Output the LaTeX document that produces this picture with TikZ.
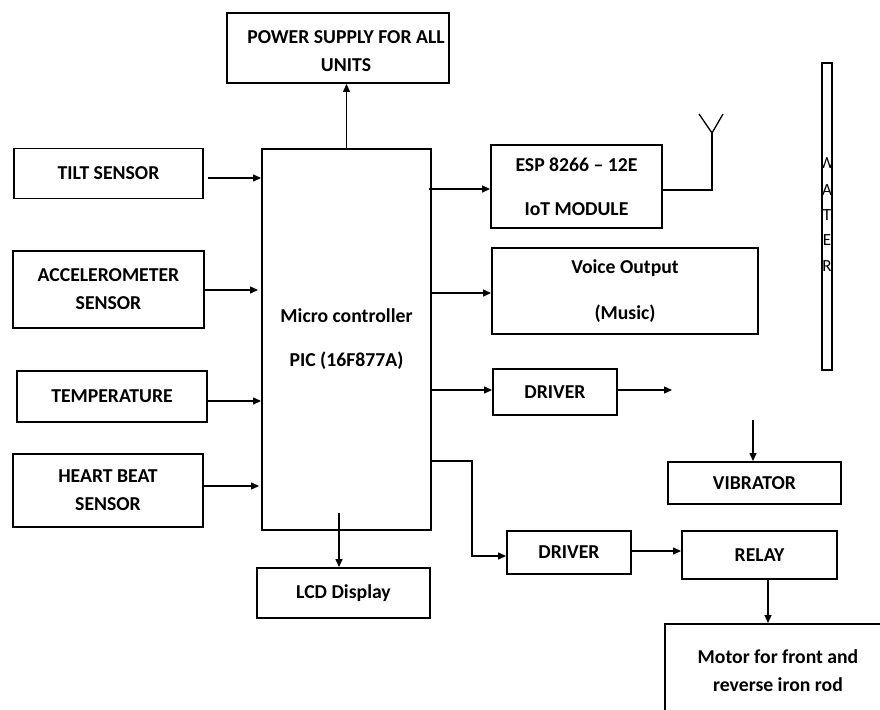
\documentclass[tikz,border=0pt]{standalone}
\usepackage{fontspec}
\setmainfont{Carlito}
\usetikzlibrary{arrows.meta}
\begin{document}
\begin{tikzpicture}[x=1pt,y=-1pt,
 box/.style={draw, line width=1.9pt, inner sep=0pt, align=center, font=\fontsize{19.7}{28}\selectfont\bfseries},
 txt/.style={inner sep=0pt, align=center, font=\fontsize{19.7}{28}\selectfont\bfseries},
 arr/.style={line width=1.3pt, -{Triangle[length=8pt,width=7pt]}},
 wire/.style={line width=1.3pt},
 barletter/.style={inner sep=0pt, font=\fontsize{17}{17}\selectfont}]
\useasboundingbox (0,0) rectangle (880,709);
\clip (0,0) rectangle (880,709);
% boxes
\node[box, minimum width=222, minimum height=70] (power) at (338,48) {};
\node[txt] (powertxt) at (346,51) {POWER SUPPLY FOR ALL\\UNITS};
\node[box, minimum width=169, minimum height=381] (mc) at (346.5,339.5) {Micro controller\\[16pt]PIC (16F877A)};
\node[box, minimum width=189, minimum height=50] (tilt) at (108.5,173.5) {\raisebox{-1.5pt}{TILT SENSOR}};
\node[box, minimum width=191, minimum height=77] (acc) at (108.5,289.5) {ACCELEROMETER\\SENSOR};
\node[box, minimum width=190, minimum height=51] (temp) at (112,396.5) {TEMPERATURE};
\node[box, minimum width=190, minimum height=73] (heart) at (108,490.5) {HEART BEAT\\SENSOR};
\node[box, minimum width=173, minimum height=50] (lcd) at (343.5,593) {LCD Display};
\node[box, minimum width=171, minimum height=83] (esp) at (576.5,186.5) {ESP 8266 – 12E\\[16pt]IoT MODULE};
\node[box, minimum width=266, minimum height=86] (voice) at (625,291) {Voice Output\\[18pt](Music)};
\node[box, minimum width=124, minimum height=46] (drv1) at (555,392) {DRIVER};
\node[box, minimum width=173, minimum height=42] (vib) at (754.5,483) {VIBRATOR};
\node[box, minimum width=124, minimum height=43] (drv2) at (569,552.5) {DRIVER};
\node[box, minimum width=155, minimum height=48] (relay) at (759.5,555) {RELAY};
\node[box, minimum width=230, minimum height=100, anchor=north west] (motor) at (664,623) {};
\node[txt] (motortxt) at (778,671) {Motor for front and\\reverse iron rod};
% vertical bar
\node[draw, line width=1.6pt, minimum width=10, minimum height=307, inner sep=0pt] (bar) at (827,216.5) {};
\begin{scope}
\clip (823,64) rectangle (831,369);
\foreach \l/\y in {W/163,A/190,T/215,E/240,R/266}
  \node[barletter] (bl\l) at (827,\y) {\l};
\end{scope}
% connectors
\draw[arr] (mc.north) -- (mc.north |- power.south);
\draw[arr, shorten <=4pt] (tilt.east |- 0,178) -- (mc.west |- 0,178);
\draw[arr, shorten >=3pt] (acc.east |- 0,290) -- (mc.west |- 0,290);
\draw[arr] (temp.east |- 0,401) -- (mc.west |- 0,401);
\draw[arr, shorten >=2pt] (heart.east |- 0,486) -- (mc.west |- 0,486);
\draw[arr] (mc.south -| 339,0) ++(0,-18) -- (lcd.north -| 339,0);
\draw[arr, shorten <=-3pt] (mc.east |- 0,189) -- (esp.west |- 0,189);
\draw[arr] (mc.east |- 0,293) -- (voice.west |- 0,293);
\draw[arr] (mc.east |- 0,390) -- (drv1.west |- 0,390);
\coordinate (drvout) at (672,390);
\draw[arr] (drv1.east |- drvout) -- (drvout);
\coordinate (vibin) at (753,420);
\draw[arr] (vibin) -- (vib.north -| vibin);
\coordinate (elbow) at (472,461);
\draw[arr] (mc.east |- elbow) -- (elbow) |- (drv2.west |- 0,556);
\draw[arr] (drv2.east |- 0,551) -- (relay.west |- 0,551);
\draw[arr] (relay.south -| 768,0) -- (motor.north -| 768,0);
% antenna
\coordinate (antbase) at (712,133);
\coordinate (antl) at (699,114);
\coordinate (antr) at (723,114);
\draw[wire] (esp.east |- 0,190) -| (antbase);
\draw[wire] (antl) -- (antbase) -- (antr);
\end{tikzpicture}
\end{document}
